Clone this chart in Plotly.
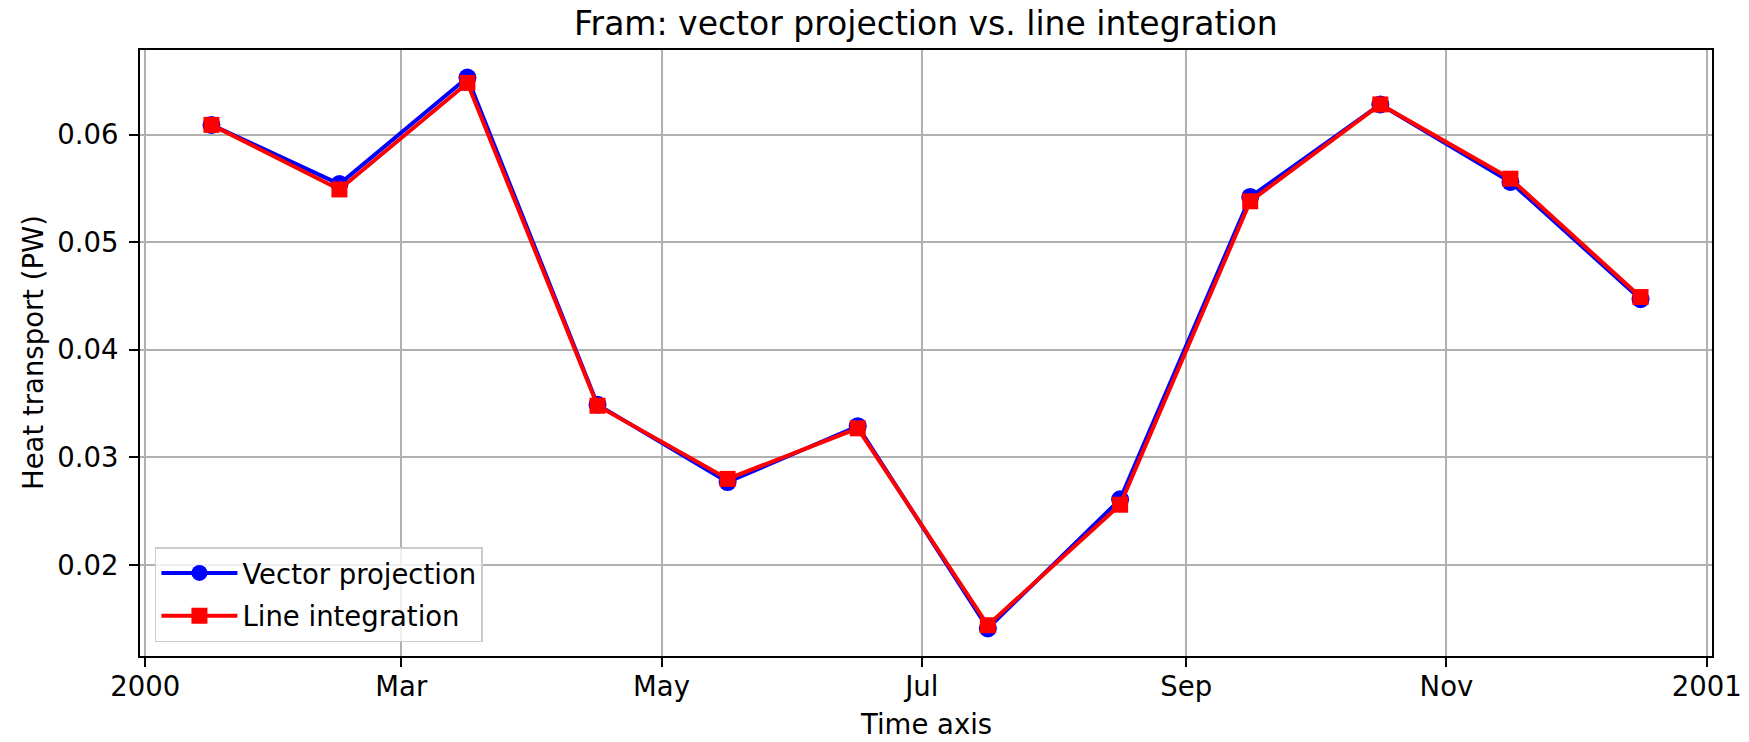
import pandas as pd
import plotly.graph_objects as go

# ---- data ----
dates = ["2000-01-16 12:00", "2000-02-15 12:00", "2000-03-16 12:00", "2000-04-16 00:00",
         "2000-05-16 12:00", "2000-06-16 00:00", "2000-07-16 12:00", "2000-08-16 12:00",
         "2000-09-16 00:00", "2000-10-16 12:00", "2000-11-16 00:00", "2000-12-16 12:00"]
vector_projection = [0.0609, 0.0554, 0.0653, 0.0349, 0.0277, 0.0329,
                     0.0141, 0.0261, 0.0542, 0.0628, 0.0556, 0.0447]
line_integration = [0.0609, 0.0549, 0.0648, 0.0348, 0.0280, 0.0327,
                    0.0144, 0.0256, 0.0538, 0.0628, 0.0559, 0.0449]
x_tick_vals = ["2000-01-01", "2000-03-01", "2000-05-01", "2000-07-01",
               "2000-09-01", "2000-11-01", "2001-01-01"]
x_tick_text = ["2000", "Mar", "May", "Jul", "Sep", "Nov", "2001"]
y_tick_vals = [0.02, 0.03, 0.04, 0.05, 0.06]
y_tick_text = ["0.02", "0.03", "0.04", "0.05", "0.06"]

title = "Fram: vector projection vs. line integration"
x_label = "Time axis"
y_label = "Heat transport (PW)"

# ---- ranges with matplotlib-like 5% margins ----
t = pd.to_datetime(pd.Series(dates))
span = t.max() - t.min()
x_range = [(t.min() - 0.05 * span).strftime("%Y-%m-%d %H:%M:%S"),
           (t.max() + 0.05 * span).strftime("%Y-%m-%d %H:%M:%S")]
all_y = vector_projection + line_integration
ymin, ymax = min(all_y), max(all_y)
ypad = 0.05 * (ymax - ymin)
y_range = [ymin - ypad, ymax + ypad]

FONT = "DejaVu Sans"
TXT = "#000000"
FS = 27.5
W, H = 1749, 742
ML, MR, MT, MB = 140, 37, 50, 86

fig = go.Figure()
fig.add_trace(go.Scatter(
    x=dates, y=vector_projection, mode="lines+markers", name="Vector projection",
    legendgroup="a",
    line=dict(color="#0000ff", width=4),
    marker=dict(symbol="circle", size=18, color="#0000ff"),
))
fig.add_trace(go.Scatter(
    x=dates, y=line_integration, mode="lines+markers", name="Line integration",
    legendgroup="b",
    line=dict(color="#ff0000", width=4),
    marker=dict(symbol="square", size=16, color="#ff0000"),
))

axis_common = dict(
    showline=True, linecolor="black", linewidth=2, mirror=True,
    showgrid=True, gridcolor="#b0b0b0", gridwidth=2,
    ticks="outside", ticklen=9, tickwidth=2, tickcolor="black",
    tickfont=dict(family=FONT, size=FS, color=TXT),
    zeroline=False, automargin=False, ticklabeloverflow="allow",
)

fig.update_layout(
    width=W, height=H,
    paper_bgcolor="white", plot_bgcolor="white",
    margin=dict(l=ML, r=MR, t=MT, b=MB, autoexpand=False),
    font=dict(family=FONT, size=FS, color=TXT),
    xaxis=dict(axis_common, type="date", range=x_range, ticklabelstandoff=-4,
               tickmode="array", tickvals=x_tick_vals, ticktext=x_tick_text),
    yaxis=dict(axis_common, range=y_range, ticklabelstandoff=5,
               tickmode="array", tickvals=y_tick_vals, ticktext=y_tick_text),
    legend=dict(x=0.0095, y=0.023, xanchor="left", yanchor="bottom",
                bgcolor="rgba(255,255,255,0.8)", bordercolor="#cccccc", borderwidth=1.5,
                font=dict(family=FONT, size=FS, color=TXT),
                itemwidth=76, tracegroupgap=4),
    showlegend=True,
    annotations=[
        dict(text=title, xref="paper", yref="paper", x=0.5, y=1,
             yshift=27, xanchor="center", yanchor="middle", showarrow=False,
             font=dict(family=FONT, size=33, color=TXT)),
        dict(text=x_label, xref="paper", yref="paper", x=0.5, y=0,
             yshift=-68, xanchor="center", yanchor="middle", showarrow=False,
             font=dict(family=FONT, size=FS, color=TXT)),
        dict(text=y_label, xref="paper", yref="paper", x=0, y=0.5,
             xshift=-107, xanchor="center", yanchor="middle", showarrow=False,
             textangle=-90, font=dict(family=FONT, size=FS, color=TXT)),
    ],
)

# remove the default 8px page margin so the figure fills the window exactly
fig.write_html("out.html",
               config={"displayModeBar": False},
               post_script="document.body.style.margin='0px';"
                           "document.body.style.overflow='hidden';")
